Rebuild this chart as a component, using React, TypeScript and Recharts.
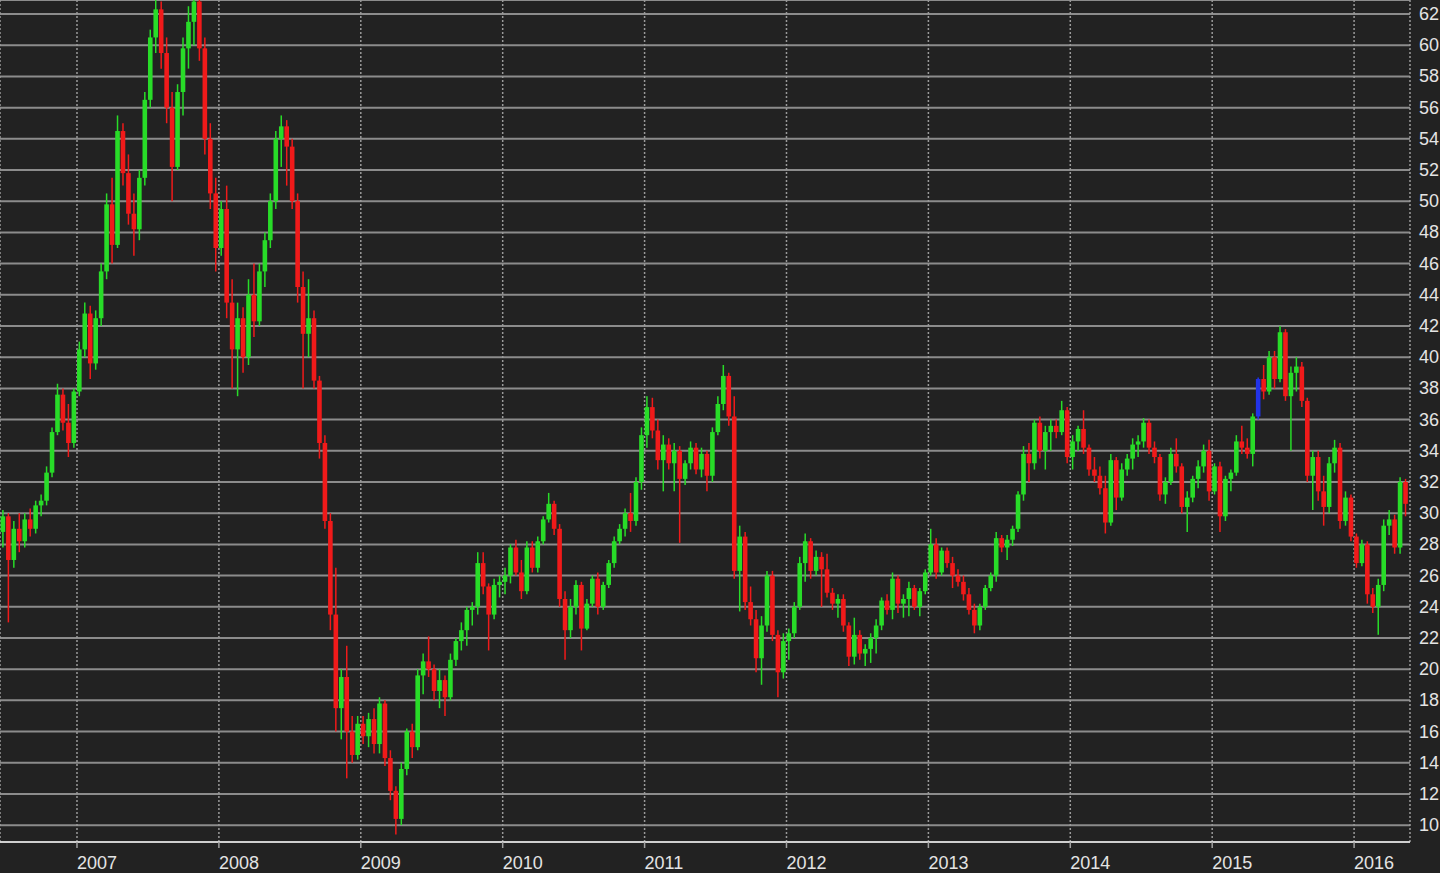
import React from 'react';
import { ComposedChart, Bar, XAxis, YAxis, CartesianGrid } from 'recharts';

// two candles per month, first one mid June 2006
const START = 2006.476;
const STEP = 1 / 26;

const opens = [
  28.8, 29.8, 27.0, 29.0, 28.2, 29.6, 29.0, 30.5, 30.8, 32.6, 35.2, 37.6, 35.8, 34.5,
  37.8, 40.5, 42.8, 39.6, 42.5, 45.5, 49.8, 47.2, 54.5, 51.8, 49.2, 48.2, 51.5, 56.5, 60.5, 62.3, 59.5, 56.0, 52.2, 57.0, 59.8, 61.5, 62.8, 59.8, 54.0, 50.5,
  47.0, 49.5, 43.5, 40.5, 42.5, 40.0, 44.0, 42.3, 45.5, 47.5, 50.0, 54.0, 54.8, 53.5, 50.0, 44.5, 41.5, 42.5, 38.5, 34.5, 29.5, 23.5, 17.5, 19.5, 16.0, 14.5,
  16.5, 15.7, 16.8, 15.2, 17.8, 14.3, 12.2, 10.4, 13.6, 16.0, 15.0, 19.6, 20.5, 20.0, 18.6, 19.3, 18.2, 20.6, 21.8, 22.5, 23.8, 24.0, 26.8, 25.3, 23.5, 25.4,
  25.6, 26.0, 27.8, 26.2, 25.0, 27.8, 26.5, 28.2, 29.6, 30.6, 29.0, 24.5, 22.5, 24.0, 25.4, 22.6, 24.2, 25.8, 24.0, 25.4, 26.8, 28.2, 29.0, 30.0, 29.5, 32.0,
  35.0, 36.8, 35.3, 33.4, 34.4, 33.2, 34.0, 32.2, 33.2, 34.2, 32.8, 33.8, 32.4, 35.2, 37.0, 38.8, 36.2, 26.3, 28.5, 24.3, 23.2, 20.7, 22.8, 26.0, 22.2, 19.8,
  21.8, 22.3, 24.0, 26.8, 28.2, 26.3, 27.2, 26.4, 24.9, 24.2, 24.5, 22.8, 20.8, 22.2, 21.0, 21.3, 22.0, 22.8, 24.4, 23.8, 25.8, 24.2, 24.5, 25.2, 24.0, 25.0,
  26.2, 28.0, 26.2, 27.6, 26.8, 26.0, 25.6, 24.8, 23.8, 22.8, 24.0, 25.2, 26.0, 28.4, 27.8, 28.3, 29.0, 31.2, 33.8, 33.2, 35.8, 34.0, 35.2, 35.6, 35.2, 36.6,
  33.6, 34.6, 35.4, 34.2, 32.8, 32.4, 31.6, 29.4, 33.4, 31.0, 32.8, 33.5, 34.4, 34.6, 35.8, 34.2, 33.6, 31.2, 32.0, 33.8, 33.0, 30.4, 31.0, 32.2, 33.0, 34.0,
  31.4, 33.0, 29.8, 32.2, 32.6, 34.6, 34.2, 33.8, 36.2, 38.6, 37.8, 40.0, 38.6, 41.6, 37.5, 39.0, 39.4, 37.2, 32.4, 33.6, 31.4, 30.4, 33.2, 34.2, 29.5, 31.0,
  28.5, 26.8, 28.0, 24.8, 24.0, 25.4, 29.2, 29.6, 27.8, 32.0,
];

const highs = [
  30.2, 30.0, 29.5, 30.0, 30.0, 30.3, 30.8, 31.2, 33.0, 35.5, 38.3, 38.0, 37.0, 38.0,
  41.0, 43.5, 43.3, 43.0, 46.0, 50.5, 51.5, 55.5, 55.0, 53.0, 50.5, 52.0, 57.0, 61.0, 63.0, 62.8, 60.5, 57.0, 57.5, 60.5, 62.5, 63.2, 63.2, 60.5, 55.0, 51.5,
  50.0, 51.0, 45.0, 43.5, 43.2, 45.0, 46.0, 46.0, 48.0, 50.5, 54.5, 55.5, 55.2, 54.0, 50.5, 45.5, 45.0, 43.0, 38.8, 35.0, 30.0, 26.5, 20.0, 21.5, 17.0, 17.0,
  17.0, 17.2, 17.5, 18.2, 18.0, 14.8, 12.5, 14.0, 16.2, 16.5, 20.0, 21.0, 22.1, 20.3, 20.0, 19.6, 21.0, 22.0, 23.0, 24.0, 24.3, 27.5, 27.5, 25.5, 25.8, 26.0,
  26.5, 28.0, 28.3, 27.0, 28.2, 28.2, 28.5, 29.8, 31.3, 30.8, 29.3, 25.0, 24.5, 25.7, 25.6, 24.5, 26.0, 26.2, 25.6, 27.0, 28.5, 29.3, 30.3, 31.3, 32.3, 35.5,
  37.5, 37.4, 36.0, 35.0, 34.8, 34.5, 34.3, 33.4, 34.6, 34.5, 34.2, 34.0, 35.5, 37.5, 39.5, 39.0, 37.5, 29.2, 28.8, 25.3, 23.8, 23.4, 26.3, 26.3, 22.5, 22.3,
  22.6, 24.3, 27.2, 28.7, 28.4, 27.6, 27.5, 27.4, 25.2, 24.8, 24.8, 23.0, 23.3, 22.5, 21.6, 22.3, 23.2, 24.6, 24.8, 26.2, 26.0, 24.8, 25.6, 25.4, 25.2, 26.4,
  29.0, 28.4, 27.8, 27.8, 27.2, 26.4, 26.0, 25.2, 24.2, 24.2, 25.4, 26.2, 28.8, 28.6, 28.6, 29.2, 31.4, 34.3, 34.5, 36.0, 36.2, 35.6, 36.0, 36.0, 37.2, 36.8,
  35.0, 35.6, 36.6, 34.4, 33.6, 33.0, 32.4, 33.8, 33.6, 33.2, 33.8, 34.8, 35.0, 36.1, 36.0, 34.6, 33.8, 32.3, 34.2, 34.8, 33.2, 31.4, 32.4, 33.4, 34.4, 34.7,
  33.2, 33.3, 32.4, 32.8, 35.0, 35.6, 34.8, 36.4, 38.7, 39.5, 40.4, 40.4, 42.0, 41.8, 39.4, 40.0, 39.7, 37.4, 34.0, 34.0, 32.4, 33.6, 34.7, 34.5, 31.4, 31.2,
  28.7, 28.3, 28.2, 25.2, 25.8, 29.6, 30.2, 29.9, 32.3, 32.2,
];

const lows = [
  27.8, 23.0, 26.5, 27.5, 27.8, 28.5, 28.7, 29.8, 30.5, 32.3, 35.0, 35.3, 33.6, 34.2,
  37.5, 40.0, 38.6, 39.2, 42.0, 45.0, 46.0, 47.0, 51.0, 48.5, 46.5, 47.5, 51.0, 56.0, 59.5, 58.5, 55.0, 50.0, 52.0, 55.5, 58.5, 60.0, 59.0, 53.0, 49.5, 45.5,
  46.5, 42.5, 38.0, 37.5, 39.0, 39.5, 41.3, 42.0, 44.5, 47.0, 49.5, 52.2, 51.0, 49.5, 43.5, 38.0, 40.0, 38.0, 33.5, 29.0, 22.5, 16.0, 15.5, 13.0, 14.0, 14.2,
  15.2, 15.0, 14.6, 14.6, 13.8, 11.6, 9.4, 10.0, 13.2, 14.3, 14.8, 18.4, 19.5, 18.0, 17.5, 17.0, 18.0, 20.2, 21.2, 21.5, 22.8, 23.5, 24.8, 21.2, 23.2, 24.6,
  24.8, 25.5, 26.0, 24.5, 24.8, 26.2, 26.2, 28.0, 29.4, 28.6, 24.0, 20.6, 22.0, 23.5, 21.2, 22.5, 24.0, 23.5, 23.8, 25.2, 26.5, 28.0, 28.5, 28.8, 29.2, 31.5,
  34.2, 34.8, 32.8, 31.4, 32.8, 31.4, 28.1, 31.8, 32.8, 32.5, 32.3, 31.4, 32.0, 35.0, 36.6, 35.6, 25.8, 23.7, 23.8, 22.8, 19.8, 19.0, 22.4, 21.8, 18.2, 19.4,
  20.6, 22.0, 23.8, 25.6, 25.8, 26.0, 24.0, 24.6, 23.8, 23.3, 22.4, 20.2, 20.3, 20.6, 20.2, 20.4, 21.0, 22.5, 23.5, 23.2, 23.6, 23.3, 23.4, 23.8, 23.4, 24.8,
  26.0, 25.8, 26.0, 26.5, 25.2, 25.3, 24.4, 23.5, 22.3, 22.5, 23.8, 25.0, 25.6, 27.5, 27.0, 27.9, 28.8, 30.8, 32.0, 32.8, 33.5, 32.8, 34.0, 34.8, 35.0, 33.2,
  32.8, 34.0, 33.8, 32.4, 32.0, 31.2, 28.7, 29.2, 30.2, 30.8, 32.4, 32.8, 33.6, 34.2, 33.8, 33.2, 30.8, 30.6, 31.8, 32.6, 30.0, 28.8, 30.7, 31.6, 32.6, 30.8,
  31.2, 28.8, 29.5, 31.4, 32.4, 33.8, 33.5, 33.0, 36.0, 37.3, 37.6, 38.0, 38.4, 37.2, 34.0, 37.8, 36.8, 32.0, 30.2, 30.8, 29.2, 30.0, 32.6, 29.0, 29.2, 28.2,
  26.5, 26.6, 24.2, 23.6, 22.2, 25.0, 28.6, 27.4, 27.4, 29.8,
];

const closes = [
  29.8, 27.0, 29.0, 28.2, 29.6, 29.0, 30.5, 30.8, 32.6, 35.2, 37.6, 35.8, 34.5, 37.8,
  40.5, 42.8, 39.6, 42.5, 45.5, 49.8, 47.2, 54.5, 51.8, 49.2, 48.2, 51.5, 56.5, 60.5, 62.3, 59.5, 56.0, 52.2, 57.0, 59.8, 61.5, 62.8, 59.8, 54.0, 50.5, 47.0,
  49.5, 43.5, 40.5, 42.5, 40.0, 44.0, 42.3, 45.5, 47.5, 50.0, 54.0, 54.8, 53.5, 50.0, 44.5, 41.5, 42.5, 38.5, 34.5, 29.5, 23.5, 17.5, 19.5, 16.0, 14.5, 16.5,
  15.7, 16.8, 15.2, 17.8, 14.3, 12.2, 10.4, 13.6, 16.0, 15.0, 19.6, 20.5, 20.0, 18.6, 19.3, 18.2, 20.6, 21.8, 22.5, 23.8, 24.0, 26.8, 25.3, 23.5, 25.4, 25.6,
  26.0, 27.8, 26.2, 25.0, 27.8, 26.5, 28.2, 29.6, 30.6, 29.0, 24.5, 22.5, 24.0, 25.4, 22.6, 24.2, 25.8, 24.0, 25.4, 26.8, 28.2, 29.0, 30.0, 29.5, 32.0, 35.0,
  36.8, 35.3, 33.4, 34.4, 33.2, 34.0, 32.2, 33.2, 34.2, 32.8, 33.8, 32.4, 35.2, 37.0, 38.8, 36.2, 26.3, 28.5, 24.3, 23.2, 20.7, 22.8, 26.0, 22.2, 19.8, 21.8,
  22.3, 24.0, 26.8, 28.2, 26.3, 27.2, 26.4, 24.9, 24.2, 24.5, 22.8, 20.8, 22.2, 21.0, 21.3, 22.0, 22.8, 24.4, 23.8, 25.8, 24.2, 24.5, 25.2, 24.0, 25.0, 26.2,
  28.0, 26.2, 27.6, 26.8, 26.0, 25.6, 24.8, 23.8, 22.8, 24.0, 25.2, 26.0, 28.4, 27.8, 28.3, 29.0, 31.2, 33.8, 33.2, 35.8, 34.0, 35.2, 35.6, 35.2, 36.6, 33.6,
  34.6, 35.4, 34.2, 32.8, 32.4, 31.6, 29.4, 33.4, 31.0, 32.8, 33.5, 34.4, 34.6, 35.8, 34.2, 33.6, 31.2, 32.0, 33.8, 33.0, 30.4, 31.0, 32.2, 33.0, 34.0, 31.4,
  33.0, 29.8, 32.2, 32.6, 34.6, 34.2, 33.8, 36.2, 38.6, 37.8, 40.0, 38.6, 41.6, 37.5, 39.0, 39.4, 37.2, 32.4, 33.6, 31.4, 30.4, 33.2, 34.2, 29.5, 31.0, 28.5,
  26.8, 28.0, 24.8, 24.0, 25.4, 29.2, 29.6, 27.8, 32.0, 30.6,
];

// candles drawn in blue on the original
const blueCandles = [230];

const yearTicks = [2007, 2008, 2009, 2010, 2011, 2012, 2013, 2014, 2015, 2016];
const priceTicks = [10, 12, 14, 16, 18, 20, 22, 24, 26, 28, 30, 32, 34, 36, 38, 40, 42, 44, 46, 48, 50, 52, 54, 56, 58, 60, 62];

const UP = '#28dc28';
const DOWN = '#f01a1a';
const BLUE = '#2233e8';
const FONT = '"Liberation Sans", Arial, Helvetica, sans-serif';

const data = closes.map((close, i) => ({
  t: START + i * STEP,
  open: opens[i],
  high: highs[i],
  low: lows[i],
  close,
  range: [lows[i], highs[i]],
  blue: blueCandles.includes(i),
}));

const Candle = (props: any) => {
  const { x, y, width, height, payload } = props;
  if (!payload) return null;
  const { open, close, high, low } = payload;
  const cx = x + width / 2;
  const top = Math.min(y, y + height);
  const h = Math.abs(height);
  const span = high - low;
  const toY = (v: number) => (span === 0 ? top : top + ((high - v) / span) * h);
  const yo = toY(open);
  const yc = toY(close);
  const color = payload.blue ? BLUE : close >= open ? UP : DOWN;
  const bodyTop = Math.min(yo, yc);
  const bodyH = Math.max(Math.abs(yc - yo), 1.5);
  return (
    <g>
      <line x1={cx} x2={cx} y1={top} y2={top + h} stroke={color} strokeWidth={1.5} />
      <rect x={cx - 2.3} y={bodyTop} width={4.6} height={bodyH} fill={color} />
    </g>
  );
};

const YearTick = (props: any) => {
  const { x, payload } = props;
  return (
    <text x={x} y={869} textAnchor="start" fill="#e4e4e4" fontSize={18} fontFamily={FONT}>
      {payload.value}
    </text>
  );
};

const PriceTick = (props: any) => {
  const { y, payload } = props;
  return (
    <text x={1439} y={y + 6} textAnchor="end" fill="#e4e4e4" fontSize={18} fontFamily={FONT}>
      {payload.value}
    </text>
  );
};

const App: React.FC = () => {
  return (
    <div style={{ position: 'fixed', left: 0, top: 0, width: 1440, height: 873, background: '#222222' }}>
      <ComposedChart
        width={1440}
        height={873}
        data={data}
        margin={{ top: 0, right: 0, left: 0, bottom: 0 }}
      >
        <CartesianGrid vertical={false} stroke="#8c8c8c" strokeWidth={2} />
        <CartesianGrid horizontal={false} stroke="#9a9a9a" strokeWidth={1.5} strokeDasharray="2 2" />
        <XAxis
          dataKey="t"
          type="number"
          domain={[2006.4574, 2016.394]}
          ticks={yearTicks}
          allowDataOverflow
          height={31}
          axisLine={{ stroke: '#e6e6e6', strokeWidth: 1.5 }}
          tickLine={{ stroke: '#a0a0a0', strokeWidth: 1.5 }}
          tickSize={6}
          tick={<YearTick />}
        />
        <YAxis
          orientation="right"
          width={30}
          domain={[8.92, 62.9]}
          ticks={priceTicks}
          allowDataOverflow
          axisLine={false}
          tickLine={false}
          tick={<PriceTick />}
        />
        <Bar dataKey="range" barSize={4} shape={<Candle />} isAnimationActive={false} />
      </ComposedChart>
    </div>
  );
};

export default App;
